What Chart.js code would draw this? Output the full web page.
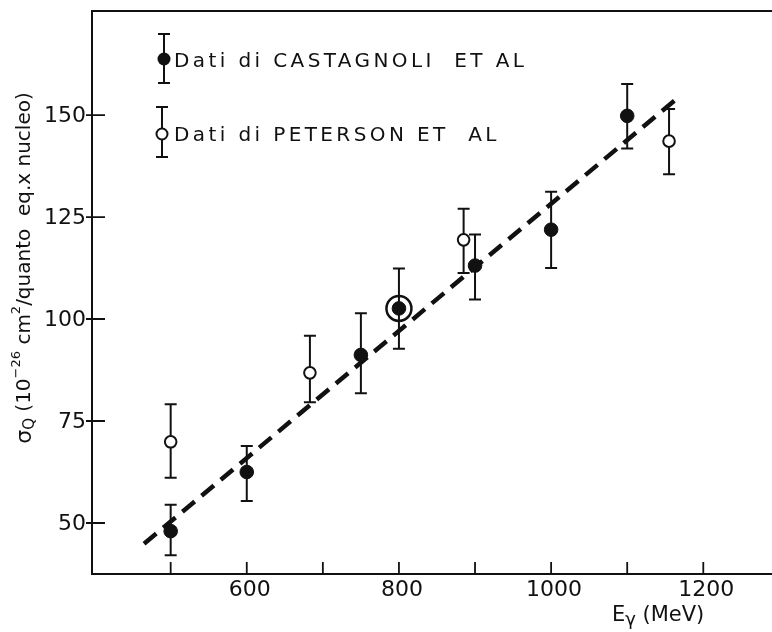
<!DOCTYPE html>
<html lang="it">
<head>
<meta charset="UTF-8">
<title>Sezione d'urto in funzione di E&gamma;</title>
<style>
  html, body { margin: 0; padding: 0; background: #fff; }
  #wrap { width: 772px; height: 632px; }
</style>
<script src="https://cdn.jsdelivr.net/npm/chart.js"></script>
</head>
<body>
<div id="wrap"><canvas id="chart" width="772" height="632"></canvas></div>
<script>
// Dati di Castagnoli et al (punti pieni) - E in MeV, sigma in 10^-26 cm^2
const castagnoliE = [500, 600, 750, 800, 900, 1000, 1100];
const castagnoliSigma = [48, 62.5, 91.2, 102.6, 113.1, 121.9, 149.8];
const castagnoliLow = [42.1, 55.4, 81.8, 92.7, 104.8, 112.5, 141.8];
const castagnoliHigh = [54.5, 68.9, 101.4, 112.4, 120.7, 131.2, 157.6];

// Dati di Peterson et al (punti vuoti)
const petersonE = [500, 683, 885, 1155];
const petersonSigma = [69.9, 86.8, 119.4, 143.6];
const petersonLow = [61.1, 79.6, 111.3, 135.5];
const petersonHigh = [79.1, 95.9, 127.0, 151.5];

// punto cerchiato
const circledE = [800];
const circledSigma = [102.6];

// retta tratteggiata
const fitE = [465, 1169];
const fitSigma = [44.9, 154.6];

// assi
const xTickLabels = [600, 800, 1000, 1200];
const xTickMarks = [500, 600, 700, 800, 900, 1000, 1100, 1200];
const yTickLabels = [50, 75, 100, 125, 150];

const FONT = '"DejaVu Sans", sans-serif';
const INK = '#111';

function pts(xs, ys) {
  return xs.map((x, i) => ({ x: x, y: ys[i] }));
}

// testo con pedici / apici: parts = [testo, dimensione, spostamento verticale]
function richWidth(ctx, parts) {
  let w = 0;
  parts.forEach(p => { ctx.font = p[1] + 'px ' + FONT; w += ctx.measureText(p[0]).width; });
  return w;
}
function drawRich(ctx, parts, x, y, align) {
  const total = richWidth(ctx, parts);
  let cx = align === 'right' ? x - total : align === 'center' ? x - total / 2 : x;
  parts.forEach(p => {
    ctx.font = p[1] + 'px ' + FONT;
    ctx.fillText(p[0], cx, y + p[2]);
    cx += ctx.measureText(p[0]).width;
  });
}

function drawErrorBar(ctx, x, yLo, yHi) {
  ctx.beginPath();
  ctx.moveTo(x, yLo); ctx.lineTo(x, yHi);
  ctx.moveTo(x - 6, yLo); ctx.lineTo(x + 6, yLo);
  ctx.moveTo(x - 6, yHi); ctx.lineTo(x + 6, yHi);
  ctx.stroke();
}

const errorBars = {
  id: 'errorBars',
  beforeDatasetsDraw(chart) {
    const ctx = chart.ctx, xs = chart.scales.x, ys = chart.scales.y;
    ctx.save();
    ctx.strokeStyle = INK;
    ctx.lineWidth = 2;
    castagnoliE.forEach((e, i) => {
      drawErrorBar(ctx, xs.getPixelForValue(e), ys.getPixelForValue(castagnoliLow[i]), ys.getPixelForValue(castagnoliHigh[i]));
    });
    petersonE.forEach((e, i) => {
      drawErrorBar(ctx, xs.getPixelForValue(e), ys.getPixelForValue(petersonLow[i]), ys.getPixelForValue(petersonHigh[i]));
    });
    ctx.restore();
  }
};

const axesAndText = {
  id: 'axesAndText',
  afterDraw(chart) {
    const ctx = chart.ctx, a = chart.chartArea;
    const xs = chart.scales.x, ys = chart.scales.y;
    ctx.save();
    ctx.strokeStyle = INK;
    ctx.fillStyle = INK;

    // cornice
    ctx.lineWidth = 2;
    ctx.beginPath();
    ctx.moveTo(chart.width, a.top); ctx.lineTo(a.left, a.top);
    ctx.lineTo(a.left, a.bottom); ctx.lineTo(chart.width, a.bottom);
    ctx.stroke();

    // tacche asse y (attraversano l'asse)
    ctx.lineWidth = 1.8;
    ctx.beginPath();
    yTickLabels.forEach(v => {
      const y = ys.getPixelForValue(v);
      ctx.moveTo(a.left - 6, y); ctx.lineTo(a.left + 13, y);
    });
    // tacche asse x (verso l'interno)
    xTickMarks.forEach(v => {
      const x = xs.getPixelForValue(v);
      ctx.moveTo(x, a.bottom); ctx.lineTo(x, a.bottom - 12);
    });
    ctx.stroke();

    // etichette
    ctx.font = '22px ' + FONT;
    ctx.textBaseline = 'middle';
    ctx.textAlign = 'right';
    yTickLabels.forEach(v => ctx.fillText(String(v), a.left - 6, ys.getPixelForValue(v) + 1));
    ctx.textAlign = 'center';
    xTickLabels.forEach(v => ctx.fillText(String(v), xs.getPixelForValue(v) + 3, a.bottom + 16));

    // titolo asse x
    ctx.textAlign = 'left';
    drawRich(ctx, [['E', 21, 0], ['\u03b3', 18, 4], [' (MeV)', 21, 0]], xs.getPixelForValue(1200) + 1, a.bottom + 42, 'right');

    // titolo asse y
    ctx.translate(25, 268);
    ctx.rotate(-Math.PI / 2);
    drawRich(ctx, [
      ['\u03c3', 22, 0], ['Q', 15, 5], [' (10', 20, 0], ['\u221226', 13, -8],
      [' cm', 20, 0], ['2', 13, -8], ['/quanto  eq.x nucleo)', 20, 0]
    ], 0, 0, 'center');
    ctx.setTransform(1, 0, 0, 1, 0, 0);

    // legenda
    ctx.lineWidth = 2;
    drawErrorBar(ctx, 164, 83, 34);
    ctx.beginPath(); ctx.arc(164, 59, 6.5, 0, Math.PI * 2); ctx.fill();
    drawErrorBar(ctx, 162, 157, 107);
    ctx.beginPath(); ctx.arc(162, 134, 5.5, 0, Math.PI * 2);
    ctx.fillStyle = '#fff'; ctx.fill(); ctx.stroke();
    ctx.fillStyle = INK;
    ctx.font = '20px ' + FONT;
    ctx.textAlign = 'left';
    ctx.textBaseline = 'alphabetic';
    ctx.letterSpacing = '3.4px';
    ctx.fillText('Dati di CASTAGNOLI  ET AL', 174, 67);
    ctx.fillText('Dati di PETERSON ET  AL', 174, 141);
    ctx.restore();
  }
};

new Chart(document.getElementById('chart'), {
  type: 'scatter',
  data: {
    datasets: [
      {
        label: 'Dati di CASTAGNOLI ET AL',
        data: pts(castagnoliE, castagnoliSigma),
        pointRadius: 6.8,
        pointBackgroundColor: INK,
        pointBorderColor: INK,
        pointBorderWidth: 1,
        order: 1
      },
      {
        label: 'Dati di PETERSON ET AL',
        data: pts(petersonE, petersonSigma),
        pointRadius: 5.8,
        pointBackgroundColor: '#fff',
        pointBorderColor: INK,
        pointBorderWidth: 2,
        order: 1
      },
      {
        label: 'cerchiato',
        data: pts(circledE, circledSigma),
        pointRadius: 12.5,
        pointBackgroundColor: 'rgba(0,0,0,0)',
        pointBorderColor: INK,
        pointBorderWidth: 2.5,
        order: 1
      },
      {
        type: 'line',
        label: 'retta',
        data: pts(fitE, fitSigma),
        borderColor: INK,
        borderWidth: 4.5,
        borderDash: [16, 9],
        pointRadius: 0,
        fill: false,
        order: 2
      }
    ]
  },
  options: {
    responsive: false,
    animation: false,
    events: [],
    layout: { autoPadding: false, padding: { left: 92, top: 11, right: 0, bottom: 58 } },
    plugins: { legend: { display: false }, tooltip: { enabled: false } },
    scales: {
      x: { type: 'linear', display: false, min: 396.6, max: 1290.3 },
      y: { type: 'linear', display: false, min: 37.5, max: 175.5 }
    }
  },
  plugins: [errorBars, axesAndText]
});
</script>
</body>
</html>
